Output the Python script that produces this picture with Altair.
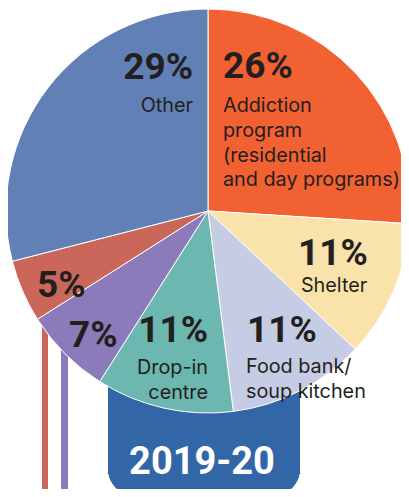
import altair as alt
import pandas as pd

# ---- data ----
categories = ["Addiction program", "Shelter", "Food bank/soup kitchen",
              "Drop-in centre", "Unlabelled (7%)", "Unlabelled (5%)", "Other"]
shares = [26, 11, 11, 11, 7, 5, 29]
colors = ["#F26131", "#FAE3AA", "#C7CCE5", "#6CB7AF", "#8B7BBA", "#CB675A", "#6180B5"]
name_lines = [["Addiction", "program", "(residential", "and day programs)"],
              ["Shelter"], ["Food bank/", "soup kitchen"], ["Drop-in", "centre"],
              [], [], ["Other"]]
year_label = "2019-20"

# ---- layout (canvas pixels) ----
W, H = 393, 481
CX, CY, R = 200, 203, 202
pct_pos = [(215, 70, "left"), (325, 257, "center"), (239, 334, "left"),
           (200, 334, "right"), (61, 339, "left"), (29, 289, "left"), (185, 71, "right")]
name_pos = [(215, 104, "left"), (326, 284, "center"), (238, 365, "left"),
            (200, 366, "right"), None, None, (185, 104, "right")]
LINE_GAP = 24.8

pie_df = pd.DataFrame({"category": categories, "share": shares,
                       "order": list(range(len(categories)))})

pct_rows, name_rows = [], []
for i, (cat, v) in enumerate(zip(categories, shares)):
    x, y, a = pct_pos[i]
    pct_rows.append({"text": f"{v}%", "px": x, "py": y, "align": a})
    if name_pos[i] is not None:
        nx, ny, na = name_pos[i]
        for j, ln in enumerate(name_lines[i]):
            name_rows.append({"text": ln, "px": nx, "py": ny + j * LINE_GAP, "align": na})
pct_df = pd.DataFrame(pct_rows)
name_df = pd.DataFrame(name_rows)

cond_font = "Roboto"

red_line = alt.Chart(pie_df).mark_rule(color="#CB675A", strokeWidth=5).encode(
    x=alt.value(37), y=alt.value(300), y2=alt.value(H + 10))
purple_line = alt.Chart(pie_df).mark_rule(color="#8B7BBA", strokeWidth=7).encode(
    x=alt.value(56.5), y=alt.value(330), y2=alt.value(H + 10))

box = alt.Chart(pie_df).mark_rect(
    color="#3366A6", cornerRadiusBottomLeft=28, cornerRadiusBottomRight=28
).encode(x=alt.value(100), x2=alt.value(292), y=alt.value(350), y2=alt.value(488))

pie = alt.Chart(pie_df).mark_arc(radius=R, stroke="white", strokeWidth=1).encode(
    theta=alt.Theta("share:Q", stack=True),
    order=alt.Order("order:Q"),
    color=alt.Color("category:N", scale=alt.Scale(domain=categories, range=colors), legend=None),
    x=alt.value(CX), y=alt.value(CY),
)

def text_layer(df, font, size, weight, color):
    layers = []
    for a in ["left", "center", "right"]:
        sub = df[df["align"] == a]
        if len(sub) == 0:
            continue
        layers.append(
            alt.Chart(sub).mark_text(font=font, fontSize=size, fontWeight=weight,
                                     color=color, align=a, baseline="alphabetic").encode(
                x=alt.X("px:Q", scale=None), y=alt.Y("py:Q", scale=None), text="text:N"))
    return layers

pct_layers = text_layer(pct_df, cond_font, 37, "bold", "#231F20")
name_layers = text_layer(name_df, "Inter", 19.8, "normal", "#231F20")

year_df = pd.DataFrame({"text": [year_label], "px": [194], "py": [466]})
year = alt.Chart(year_df).mark_text(font=cond_font, fontSize=38, fontWeight="bold",
                                    color="white", align="center", baseline="alphabetic").encode(
    x=alt.X("px:Q", scale=None), y=alt.Y("py:Q", scale=None), text="text:N")

chart = alt.layer(red_line, purple_line, box, pie, year, *pct_layers, *name_layers).properties(
    width=W, height=H, padding=0, autosize=alt.AutoSizeParams(type="none")
).configure_view(stroke=None)

chart.save("out.html", embed_options={"renderer": "svg", "actions": False})
